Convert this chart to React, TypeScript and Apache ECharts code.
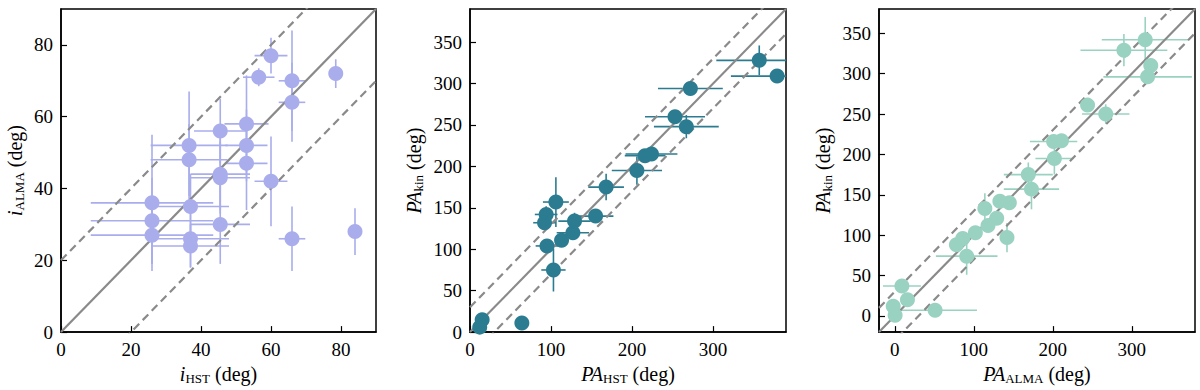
import React, { useEffect, useRef } from "react";
import * as echarts from "echarts";

// Panel 1: inclination
const p1X = [60, 56.5, 66, 78.5, 66, 53, 45.5, 36.6, 36.6, 53, 53, 45.5, 45.5, 60, 26, 37, 26, 45.5, 26, 37, 37, 66, 84];
const p1Y = [77, 71, 70, 72, 64, 58, 56, 52, 48, 52, 47, 44, 43, 42, 36, 35, 31, 30, 27, 26, 24, 26, 28];
const p1XE = [4.7, 4.5, 3.8, 0, 3.8, 6.3, 7.5, 11, 11, 6, 6, 8.5, 8.5, 4.7, 17.5, 11, 17.5, 8.5, 17.5, 11, 11, 3.8, 0];
const p1YE = [5, 2.5, 14, 4, 11, 13.5, 9, 15, 10, 10, 13, 10, 10, 12.5, 19, 9, 12, 11, 8, 8, 6, 9, 6.5];

// Panel 2: PA_HST vs PA_kin
const p2X = [357, 379, 272, 253, 267, 216, 224, 206, 168, 155, 129, 127, 113, 106, 94, 92, 95, 103, 15, 12, 64];
const p2Y = [328, 309, 294, 260, 248, 213, 215, 195, 175, 140, 134, 120, 111, 157, 142, 132, 104, 75, 15, 6, 11];
const p2XE = [53, 57, 40, 37, 40, 25, 32, 31, 22, 22, 20, 20, 0, 16, 14, 14, 14, 15, 0, 0, 0];
const p2YE = [18, 0, 0, 0, 14, 0, 0, 17, 16, 0, 10, 0, 0, 30, 10, 0, 0, 26, 0, 0, 0];

// Panel 3: PA_ALMA vs PA_kin
const p3X = [317, 290, 324, 320, 244, 267, 201, 211, 202, 169, 173, 133, 145, 114, 129, 118, 102, 86, 78, 91, 142, 9, 16, -2, 0.4, 51];
const p3Y = [342, 329, 310, 296, 261, 250, 216, 217, 195, 175, 157, 142, 140, 133, 121, 112, 103, 96, 88, 74, 97, 37, 20, 12, 1, 7];
const p3XE = [55, 55, 0, 56, 0, 30, 30, 0, 24, 31, 35, 0, 0, 0, 0, 0, 0, 0, 0, 39, 0, 24, 0, 0, 0, 53];
const p3YE = [28, 20, 0, 0, 0, 12, 0, 0, 20, 15, 25, 0, 0, 19, 0, 0, 0, 0, 0, 23, 18, 0, 0, 0, 0, 0];

const p1Ticks = [0, 20, 40, 60, 80];
const p2XTicks = [0, 100, 200, 300];
const p2YTicks = [0, 50, 100, 150, 200, 250, 300, 350];
const p3XTicks = [0, 100, 200, 300];
const p3YTicks = [0, 50, 100, 150, 200, 250, 300, 350];

const p1Offsets = [0, 20, -20];
const p2Offsets = [0, 30, -30];
const p3Offsets = [0, 30, -30];

const FONT = "'Liberation Serif', 'DejaVu Serif', serif";
const COLORS = ["#a9adec", "#2b7c91", "#9ad2c1"];

const rich = {
  it: { fontFamily: FONT, fontSize: 20, fontStyle: "italic", color: "#000" },
  sub: { fontFamily: FONT, fontSize: 13, color: "#000", padding: [9, 0, 0, 0] },
  rm: { fontFamily: FONT, fontSize: 20, color: "#000" },
};

function makeAxis(gridIndex: number, min: number, max: number, ticks: number[], name: string, isY: boolean, gap: number) {
  return {
    gridIndex,
    type: "value",
    min,
    max,
    name,
    nameLocation: "middle",
    nameGap: gap,
    nameRotate: isY ? 90 : 0,
    nameTextStyle: { rich },
    axisLine: { show: true, onZero: false, lineStyle: { color: "#000", width: 1.5 } },
    axisTick: { show: true, inside: true, length: 6, customValues: ticks, lineStyle: { color: "#000", width: 1.2 } },
    axisLabel: {
      show: true,
      customValues: ticks,
      fontFamily: FONT,
      fontSize: 19,
      color: "#000",
      margin: 8,
    },
    splitLine: { show: false },
  };
}

function buildPanel(idx: number, xs: number[], ys: number[], xe: number[], ye: number[], offsets: number[], xmin: number, xmax: number) {
  const color = COLORS[idx];
  const series: any[] = [];
  offsets.forEach((o) => {
    series.push({
      type: "line",
      xAxisIndex: idx,
      yAxisIndex: idx,
      data: [[xmin, xmin + o], [xmax, xmax + o]],
      symbol: "none",
      clip: true,
      z: 3,
      lineStyle: { color: "#8a8a8a", width: 2.2, type: o === 0 ? "solid" : [8, 5] },
      silent: true,
    });
  });
  series.push({
    type: "custom",
    xAxisIndex: idx,
    yAxisIndex: idx,
    clip: true,
    z: 2,
    data: xs.map((x, i) => [x, ys[i], xe[i], ye[i]]),
    encode: { x: 0, y: 1 },
    renderItem: (params: any, api: any) => {
      const x = api.value(0), y = api.value(1), ex = api.value(2), ey = api.value(3);
      const children: any[] = [];
      const style = { stroke: color, lineWidth: 1.6 };
      if (ex > 0) {
        const a = api.coord([x - ex, y]);
        const b = api.coord([x + ex, y]);
        children.push({ type: "line", shape: { x1: a[0], y1: a[1], x2: b[0], y2: b[1] }, style });
      }
      if (ey > 0) {
        const a = api.coord([x, y - ey]);
        const b = api.coord([x, y + ey]);
        children.push({ type: "line", shape: { x1: a[0], y1: a[1], x2: b[0], y2: b[1] }, style });
      }
      return { type: "group", children };
    },
  });
  series.push({
    type: "scatter",
    xAxisIndex: idx,
    yAxisIndex: idx,
    data: xs.map((x, i) => [x, ys[i]]),
    symbol: "circle",
    symbolSize: 15,
    itemStyle: { color, opacity: 1 },
    z: 4,
  });
  return series;
}

export default function App() {
  const ref = useRef<HTMLDivElement>(null);
  useEffect(() => {
    if (!ref.current) return;
    const chart = echarts.init(ref.current, null, { renderer: "svg" });
    const grids = [
      { left: 61, top: 9, width: 315, height: 326 },
      { left: 470, top: 9, width: 316, height: 326 },
      { left: 879, top: 9, width: 316, height: 326 },
    ].map((g) => ({ ...g, show: true, borderColor: "#000", borderWidth: 1.5, backgroundColor: "transparent" }));

    const option: any = {
      animation: false,
      grid: grids,
      xAxis: [
        makeAxis(0, 0, 90, p1Ticks, "{it|i}{sub|HST}{rm| (deg)}", false, 30),
        makeAxis(1, 0, 390, p2XTicks, "{it|PA}{sub|HST}{rm| (deg)}", false, 30),
        makeAxis(2, -20, 380, p3XTicks, "{it|PA}{sub|ALMA}{rm| (deg)}", false, 30),
      ],
      yAxis: [
        makeAxis(0, 0, 90, p1Ticks, "{it|i}{sub|ALMA}{rm| (deg)}", true, 35),
        makeAxis(1, 0, 390, p2YTicks, "{it|PA}{sub|kin}{rm| (deg)}", true, 45),
        makeAxis(2, -20, 380, p3YTicks, "{it|PA}{sub|kin}{rm| (deg)}", true, 45),
      ],
      series: [
        ...buildPanel(0, p1X, p1Y, p1XE, p1YE, p1Offsets, 0, 90),
        ...buildPanel(1, p2X, p2Y, p2XE, p2YE, p2Offsets, 0, 390),
        ...buildPanel(2, p3X, p3Y, p3XE, p3YE, p3Offsets, -20, 380),
      ],
    };
    chart.setOption(option);
    return () => chart.dispose();
  }, []);
  return <div ref={ref} style={{ position: "absolute", left: 0, top: 0, width: 1200, height: 390 }} />;
}
